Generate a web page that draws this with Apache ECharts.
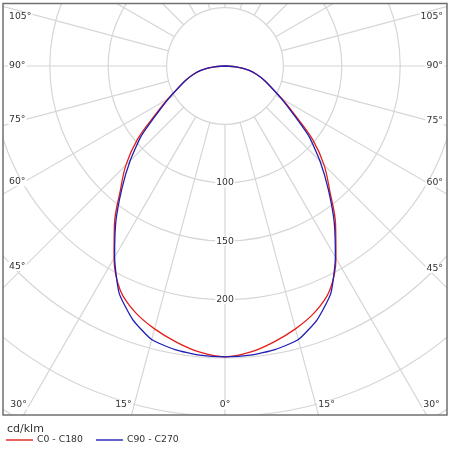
<!DOCTYPE html>
<html><head><meta charset="utf-8">
<script src="https://cdn.jsdelivr.net/npm/echarts@6/dist/echarts.min.js"></script>
<style>html,body{margin:0;padding:0;background:#fff}#c{width:450px;height:450px}</style>
</head><body><div id="c"></div>
<script>
// gamma angles (deg) of the measured photometric curves
const angles = [0,5,10,15,20,25,30,35,40,45,50,55,60,65,70,75,80,85,90];
// intensities cd/klm, C0 - C180 plane
const c0c180 = [249,246,240,233,224.5,212,190,165,139.5,120,98,73,56.5,44,35.7,28.2,20.5,10.6,0];
// intensities cd/klm, C90 - C270 plane
const c90c270 = [249,248.5,246.5,242.5,231,214.5,189,163,137.5,115,94,71,55.5,44,35.7,28.2,20.5,10.6,0];
const seriesNames = ['C0 - C180','C90 - C270'];
const angleTicks = [0,15,30,45,60,75,90,105];
const radiusLabels = [100,150,200];
const unitLabel = 'cd/klm';

const RED = '#e3201b', BLUE = '#1f1fb4';
const GRID = '#d6d6d6';
const FONT = '9.3px "DejaVu Sans", Verdana, sans-serif';
const CENTER = [225, 66];
const PXU = 1.168; // pixels per cd/klm

function toPolarData(vals){
  const out = [];
  for (let i = angles.length - 1; i >= 0; i--) out.push([vals[i], angles[i]]);
  for (let i = 1; i < angles.length; i++) out.push([vals[i], 360 - angles[i]]);
  return out;
}

const chart = echarts.init(document.getElementById('c'), null, {renderer:'canvas', width:450, height:450});
const option = {
  animation: false,
  backgroundColor: '#fff',
  polar: [
    {center: CENTER, radius: [50*PXU, 400*PXU]},
    {center: CENTER, radius: [0, 350*PXU]}
  ],
  angleAxis: [
    {polarIndex:0, type:'value', min:0, max:360, interval:15, startAngle:270, clockwise:true,
     axisLine:{show:false}, axisTick:{show:false}, axisLabel:{show:false},
     splitLine:{show:true, lineStyle:{color:GRID, width:1.2}}},
    {polarIndex:1, type:'value', min:0, max:360, startAngle:270, clockwise:true,
     axisLine:{show:false}, axisTick:{show:false}, axisLabel:{show:false}, splitLine:{show:false}}
  ],
  radiusAxis: [
    {polarIndex:0, type:'value', min:50, max:400, interval:50,
     axisLine:{show:false}, axisTick:{show:false}, axisLabel:{show:false},
     splitLine:{show:true, lineStyle:{color:GRID, width:1.2}}},
    {polarIndex:1, type:'value', min:0, max:350,
     axisLine:{show:false}, axisTick:{show:false}, axisLabel:{show:false}, splitLine:{show:false}}
  ],
  legend: {
    data: seriesNames, left: 6, top: 435.5, padding: 0, itemGap: 13,
    itemWidth: 27, itemHeight: 1.4, icon: 'rect', z: 200,
    textStyle: {fontFamily: '"DejaVu Sans", Verdana, sans-serif', fontSize: 9.3, color: '#333', padding:[0,0,0,-1]}
  },
  series: [
    {name: seriesNames[0], type:'line', coordinateSystem:'polar', polarIndex:1, symbol:'none', smooth:0.35,
     lineStyle:{color:RED, width:1.3}, itemStyle:{color:RED}, data: toPolarData(c0c180), z:3},
    {name: seriesNames[1], type:'line', coordinateSystem:'polar', polarIndex:1, symbol:'none', smooth:0.18,
     lineStyle:{color:BLUE, width:1.3}, itemStyle:{color:BLUE}, data: toPolarData(c90c270), z:4}
  ]
};
chart.setOption(option);

const mctx = document.createElement('canvas').getContext('2d');
function tw(t, f){ mctx.font = f; return mctx.measureText(t).width; }
function px(r, a){
  let p = null;
  try { p = chart.convertToPixel({polarIndex:1}, [r, a]); } catch(e) { p = null; }
  if (!p || isNaN(p[0])) {
    const rad = (270 - a) * Math.PI / 180;
    p = [CENTER[0] + r*PXU*Math.cos(rad), CENTER[1] - r*PXU*Math.sin(rad)];
  }
  return p;
}
function txt(text, x, y, align, font, extra){
  return Object.assign({type:'text', z:100, silent:true, style:{
    text:text, x:x, y:y, font:font, fill:'#333',
    textAlign:align, align:align, textVerticalAlign:'middle', verticalAlign:'middle',
    backgroundColor:'#fff', padding:[0,1]
  }}, extra||{});
}

const BOX = {x:3, y:3.5, w:444, h:411.5};
const gfx = [
  {type:'rect', z:90, silent:true, shape:{x:0,y:0,width:450,height:BOX.y}, style:{fill:'#fff'}},
  {type:'rect', z:90, silent:true, shape:{x:0,y:0,width:BOX.x,height:450}, style:{fill:'#fff'}},
  {type:'rect', z:90, silent:true, shape:{x:BOX.x+BOX.w,y:0,width:10,height:450}, style:{fill:'#fff'}},
  {type:'rect', z:90, silent:true, shape:{x:0,y:BOX.y+BOX.h,width:450,height:50}, style:{fill:'#fff'}},
  {type:'rect', z:95, silent:true, shape:{x:BOX.x,y:BOX.y,width:BOX.w,height:BOX.h}, style:{fill:'none', stroke:'#707070', lineWidth:1.5}}
];

const c = px(0, 0);
const L = 8, R = 444, B = 405, T = 17;
angleTicks.forEach(function(a){
  const text = a + '°';
  const w = tw(text, FONT);
  const dirs = a === 0 ? [0] : [a, 360 - a];
  dirs.forEach(function(aa){
    const p = px(100, aa);
    const dx = p[0] - c[0], dy = p[1] - c[1];
    const bx = dy > 0 ? c[0] + dx / dy * (B - c[1]) : Infinity;
    if (dy > 0 && bx >= L && bx <= R) {
      if (Math.abs(dx) < 0.5) gfx.push(txt(text, bx, B, 'center', FONT));
      else if (dx > 0) gfx.push(txt(text, bx + 1.5, B, 'left', FONT));
      else gfx.push(txt(text, bx - 1.5, B, 'right', FONT));
    } else if (dx > 0) {
      const xl = R - w;
      let y = c[1] + dy / dx * (xl - c[0]);
      y = Math.max(y, T);
      gfx.push(txt(text, R, y, 'right', FONT));
    } else {
      const xr = L + w;
      let y = c[1] + dy / dx * (xr - c[0]);
      y = Math.max(y, T);
      gfx.push(txt(text, L, y, 'left', FONT));
    }
  });
});

radiusLabels.forEach(function(v){
  const p = px(v, 0);
  gfx.push(txt(String(v), p[0], p[1], 'center', FONT));
});

gfx.push({type:'text', z:100, silent:true, style:{text:unitLabel, x:7, y:429, font:'11px "DejaVu Sans", Verdana, sans-serif', fill:'#333',
  textAlign:'left', align:'left', textVerticalAlign:'middle', verticalAlign:'middle'}});

chart.setOption({graphic: gfx});
</script>
</body></html>
